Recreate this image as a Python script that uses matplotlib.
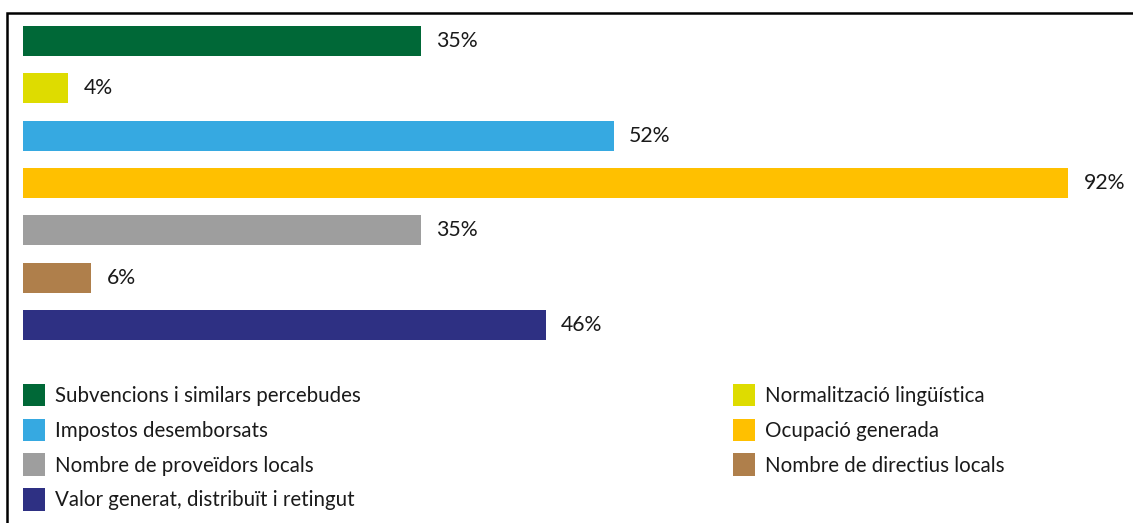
import matplotlib
matplotlib.use("Agg")
import matplotlib.pyplot as plt
from matplotlib.patches import Rectangle, Patch

# data
categories = [
    "Subvencions i similars percebudes",
    "Normalització lingüística",
    "Impostos desemborsats",
    "Ocupació generada",
    "Nombre de proveïdors locals",
    "Nombre de directius locals",
    "Valor generat, distribuït i retingut",
]
values = [35, 4, 52, 92, 35, 6, 46]
labels = ["35%", "4%", "52%", "92%", "35%", "6%", "46%"]
colors = ["#006837", "#DEDC00", "#36A9E1", "#FFC000", "#9E9E9E", "#AF7F4B", "#2E3083"]

W, H = 1133, 523
plt.rcParams["font.family"] = ["Lato", "DejaVu Sans"]

fig = plt.figure(figsize=(W / 100, H / 100), dpi=100)

# outer frame (runs off the right and bottom edges)
fig.patches.append(Rectangle((7 / W, -0.1), 1.2, 1 - 13 / H + 0.1,
                             transform=fig.transFigure, fill=False,
                             edgecolor="black", linewidth=1.8, zorder=0))

px_per_unit = 11.36
step = 47.33
top = 41 - 0.6 * step
bottom = 325 + 0.6 * step
ax_w = W - 23
ax = fig.add_axes([23 / W, 1 - bottom / H, ax_w / W, (bottom - top) / H])
ax.set_xlim(0, ax_w / px_per_unit)
ax.set_ylim(6.6, -0.6)

ypos = list(range(len(values)))
bars = ax.barh(ypos, values, height=30 / step, color=colors)
for b, lab in zip(bars, labels):
    ax.annotate(lab, (b.get_width(), b.get_y() + b.get_height() / 2),
                xytext=(11, 0), textcoords="offset points",
                va="center", ha="left", fontsize=15.3, color="#1a1a1a")

ax.axis("off")

# legend, column-major so it reads row by row like the original
handles = [Patch(facecolor=c, edgecolor="none") for c in colors]
order = [0, 2, 4, 6, 1, 3, 5]
fs = 14.8
fig.legend([handles[i] for i in order], [categories[i] for i in order],
           ncol=2, loc="upper left", bbox_to_anchor=(23 / W, 1 - 384 / H),
           frameon=False, fontsize=fs, handlelength=1.07, handleheight=1.3,
           handletextpad=0.5, labelspacing=0.6, columnspacing=18.1,
           borderpad=0, borderaxespad=0, labelcolor="#1a1a1a")

fig.savefig("out.png", dpi=100)
